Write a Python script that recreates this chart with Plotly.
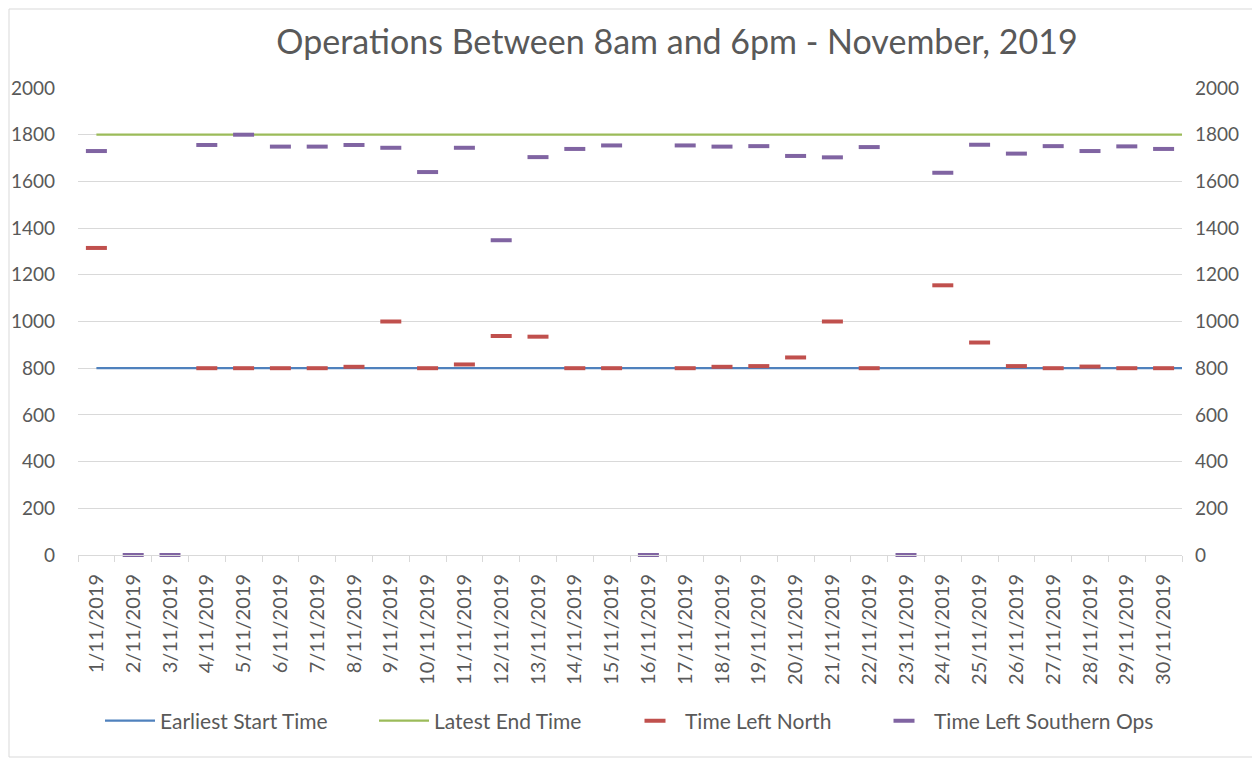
import plotly.graph_objects as go

dates = [f"{d}/11/2019" for d in range(1, 31)]
earliest_start = [800] * 30
latest_end = [1800] * 30
time_left_north = [1315, None, None, 800, 800, 800, 800, 806, 1000, 800,
                   816, 938, 935, 800, 800, None, 800, 806, 809, 846,
                   1000, 800, None, 1155, 910, 809, 800, 807, 800, 800]
time_left_south = [1730, 0, 0, 1756, 1800, 1749, 1749, 1756, 1744, 1640,
                   1744, 1348, 1704, 1739, 1754, 0, 1754, 1749, 1751, 1709,
                   1703, 1747, 0, 1637, 1757, 1719, 1751, 1730, 1750, 1739]
y_ticks = list(range(0, 2001, 200))

n = len(dates)
idx = list(range(n))
line_x = idx + [n - 0.5]

FONT = "Lato, 'Open Sans', sans-serif"
GREY = "#595959"

fig = go.Figure()
fig.add_trace(go.Scatter(x=line_x, y=earliest_start + [earliest_start[-1]], mode="lines",
                         name="Earliest Start Time", line=dict(color="#4F81BD", width=2.25),
                         legend="legend"))
fig.add_trace(go.Scatter(x=line_x, y=latest_end + [latest_end[-1]], mode="lines",
                         name="Latest End Time", line=dict(color="#9BBB59", width=2.25),
                         yaxis="y2", legend="legend2"))
fig.add_trace(go.Scatter(x=idx, y=time_left_north, mode="markers", name="Time Left North",
                         marker=dict(symbol="line-ew", size=15,
                                     line=dict(color="#C0504D", width=4)),
                         cliponaxis=False, yaxis="y2", legend="legend3"))
fig.add_trace(go.Scatter(x=idx, y=time_left_south, mode="markers", name="Time Left Southern Ops",
                         marker=dict(symbol="line-ew", size=15,
                                     line=dict(color="#8064A2", width=4)),
                         cliponaxis=False, yaxis="y2", legend="legend4"))

# page body has an 8px offset; compensate so the plot area lands where the reference has it
OFF = 8
W, H = 1260 - OFF, 760 - OFF
L, T = 78 - OFF, 88 - OFF
pw, ph = 1104, 467
R = W - L - pw
B = H - T - ph

def px_x(x):
    return (x - OFF - L) / pw

def px_y(y):
    return (T + ph - (y - OFF)) / ph

def legend_at(xpix):
    return dict(orientation="h", x=px_x(xpix), xanchor="left",
                y=px_y(721), yanchor="middle",
                font=dict(size=21, color=GREY, family=FONT), itemwidth=50,
                bgcolor="rgba(0,0,0,0)")

fig.update_layout(
    width=W, height=H,
    margin=dict(l=L, r=R, t=T, b=B, autoexpand=False),
    paper_bgcolor="white", plot_bgcolor="white",
    font=dict(family=FONT, color=GREY, size=19),
    title=dict(text="Operations Between 8am and 6pm - November, 2019",
               x=(677 - OFF) / W, xanchor="center", y=1 - (42 - OFF) / H, yanchor="middle",
               font=dict(family=FONT, size=34, color=GREY)),
    showlegend=True,
    legend=legend_at(100),
    legend2=legend_at(374),
    legend3=legend_at(625),
    legend4=legend_at(874),
    xaxis=dict(range=[-0.5, n - 0.5], tickvals=idx, ticktext=dates, tickangle=-90,
               showgrid=False, zeroline=False, showline=True, linecolor="#D9D9D9",
               linewidth=1, ticks="", tickfont=dict(size=20, color=GREY),
               ticklabelstandoff=10,
               minor=dict(ticks="outside", tick0=0.5, dtick=1, ticklen=6,
                          tickcolor="#D9D9D9", showgrid=False)),
    yaxis=dict(range=[0, 2000], tickvals=y_ticks, showgrid=True, gridcolor="#D9D9D9",
               gridwidth=1, zeroline=False, showline=False, ticks="",
               tickfont=dict(size=19, color=GREY), ticklabelstandoff=22),
    yaxis2=dict(range=[0, 2000], tickvals=y_ticks, overlaying="y", side="right",
                showgrid=False, zeroline=False, showline=False, ticks="",
                tickfont=dict(size=19, color=GREY), ticklabelstandoff=12),
    shapes=[dict(type="rect", xref="paper", yref="paper",
                 x0=px_x(9), x1=px_x(1256),
                 y0=px_y(757), y1=px_y(9),
                 line=dict(color="#D9D9D9", width=1), fillcolor="rgba(0,0,0,0)",
                 layer="below")],
)

fig.write_html("out.html")
